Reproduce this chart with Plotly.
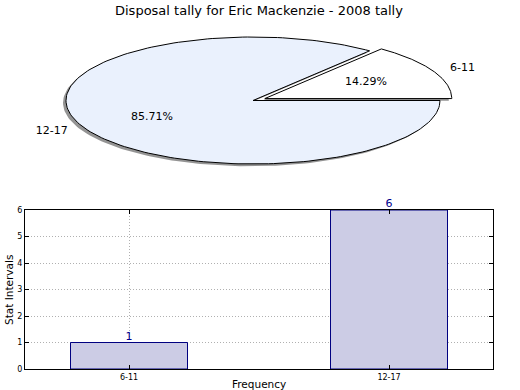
import numpy as np
import plotly.graph_objects as go

title = "Disposal tally for Eric Mackenzie - 2008 tally"
categories = ["6-11", "12-17"]
counts = [1, 6]
pie_colors = ["#ffffff", "#eaf1fd"]
explode = [0.07, 0.0]

fig = go.Figure()

# ---- elliptical pie built from the data (matplotlib-style, startangle 0, counterclockwise)
vals = np.array(counts, dtype=float)
fracs = vals / vals.sum()
edges = np.concatenate([[0.0], np.cumsum(fracs)]) * 2 * np.pi

def wedge(a0, a1, cx, cy):
    t = np.linspace(a0, a1, 200)
    xs = np.concatenate([[cx], cx + np.cos(t), [cx]])
    ys = np.concatenate([[cy], cy + np.sin(t), [cy]])
    return xs, ys

sdx, sdy = -0.016, -0.035
centers = []
for i in range(len(vals)):
    mid = (edges[i] + edges[i + 1]) / 2
    cx, cy = explode[i] * np.cos(mid), explode[i] * np.sin(mid)
    centers.append((cx, cy, mid))

# shadows
for i in range(len(vals)):
    cx, cy, mid = centers[i]
    xs, ys = wedge(edges[i], edges[i + 1], cx, cy)
    fig.add_trace(go.Scatter(x=xs + sdx, y=ys + sdy, mode="lines", fill="toself",
                             fillcolor="rgba(60,60,60,0.55)", line=dict(width=0),
                             xaxis="x2", yaxis="y2", hoverinfo="skip", showlegend=False))
# slices
for i in range(len(vals)):
    cx, cy, mid = centers[i]
    xs, ys = wedge(edges[i], edges[i + 1], cx, cy)
    fig.add_trace(go.Scatter(x=xs, y=ys, mode="lines", fill="toself",
                             fillcolor=pie_colors[i], line=dict(color="black", width=1),
                             xaxis="x2", yaxis="y2", hoverinfo="skip", showlegend=False))
# labels
for i in range(len(vals)):
    cx, cy, mid = centers[i]
    lx, ly = cx + 1.1 * np.cos(mid), cy + 1.1 * np.sin(mid)
    pos = "middle right" if lx > 0 else "middle left"
    fig.add_trace(go.Scatter(x=[lx], y=[ly], mode="text", text=[categories[i]],
                             textposition=pos, textfont=dict(size=11, color="black",
                             family="DejaVu Sans"),
                             xaxis="x2", yaxis="y2", hoverinfo="skip", showlegend=False))
    px, py = cx + 0.6 * np.cos(mid), cy + 0.6 * np.sin(mid)
    fig.add_trace(go.Scatter(x=[px], y=[py], mode="text", text=[f"{fracs[i]*100:.2f}%"],
                             textposition="middle center", textfont=dict(size=11, color="black",
                             family="DejaVu Sans"),
                             xaxis="x2", yaxis="y2", hoverinfo="skip", showlegend=False))

# ---- bar chart
fig.add_trace(go.Bar(x=categories, y=counts, width=0.45, marker=dict(color="#cccce5",
                     line=dict(color="#000080", width=1)), showlegend=False, hoverinfo="skip"))
fig.add_trace(go.Scatter(x=categories, y=counts, mode="text", text=[str(c) for c in counts],
                         textposition="top center", cliponaxis=False,
                         textfont=dict(size=11, color="#00008b", family="DejaVu Sans"),
                         showlegend=False, hoverinfo="skip"))

axis_common = dict(showline=True, mirror="ticks", linecolor="black", linewidth=1,
                   ticks="inside", ticklen=4, tickcolor="black", showgrid=True,
                   gridcolor="#b0b0b0", griddash="1px,2px", gridwidth=1, zeroline=False,
                   tickfont=dict(size=8, color="black", family="DejaVu Sans"),
                   layer="above traces", automargin=False)

fig.update_layout(
    width=520, height=390, margin=dict(l=0, r=0, t=0, b=0, autoexpand=False),
    paper_bgcolor="white", plot_bgcolor="white",
    font=dict(family="DejaVu Sans", color="black"),
    xaxis=dict(domain=[25/520, 493/520], range=[-0.4, 1.4], anchor="y", **axis_common),
    yaxis=dict(domain=[1-369/390, 1-210/390], range=[0, 6], dtick=1, anchor="x",
               **axis_common),
    xaxis2=dict(domain=[0, 1], range=[-253/187, 267/187], visible=False, anchor="y2",
                automargin=False),
    yaxis2=dict(domain=[1-180/390, 1], range=[-(180-100.5)/63.5, 100.5/63.5],
                visible=False, anchor="x2", automargin=False),
    annotations=[
        dict(text=title, x=259/520, y=1-10/390, xref="paper", yref="paper",
             showarrow=False, font=dict(size=13, color="black"), xanchor="center",
             yanchor="middle"),
        dict(text="Stat Intervals", x=9/520, y=1-290/390, xref="paper", yref="paper",
             showarrow=False, textangle=-90, font=dict(size=10.5, color="black"),
             xanchor="center", yanchor="middle"),
        dict(text="Frequency", x=259/520, y=1-383.5/390, xref="paper", yref="paper",
             showarrow=False, font=dict(size=10.5, color="black"),
             xanchor="center", yanchor="middle"),
    ],
)

fig.write_html("out.html", config={"responsive": False, "displayModeBar": False},
               post_script="document.body.style.margin='0';document.body.style.overflow='hidden';")
